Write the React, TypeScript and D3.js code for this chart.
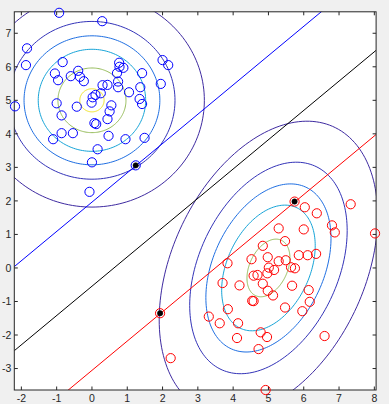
import React from "react";
import * as d3 from "d3";

// ---- data ----
const blueX = [-0.93, 0.29, -1.84, -1.87, -0.83, -1.05, -0.96, -0.6, -0.39, -0.34, -0.23, 0.77, 0.78, 0.89, 0.71, 1.42, 2.0, 2.16, 1.95, 0.74, 0.74, 1.05, 0.44, 0.3, 0.25, 0.1, 0.02, -0.01, 1.37, 1.35, 1.42, 0.55, 0.5, 0.44, 0.07, 0.12, -1.0, -0.43, -0.86, -2.18, -0.86, -0.54, -1.1, 0.47, 0.95, 1.49, 0.16, 0.0, 1.24, -0.07];
const blueY = [7.61, 7.36, 6.55, 6.05, 6.14, 5.8, 5.6, 5.72, 5.88, 5.7, 5.57, 6.12, 6.0, 5.97, 5.81, 5.81, 6.2, 6.05, 5.49, 5.56, 5.39, 5.24, 5.46, 5.45, 5.21, 5.16, 5.09, 4.93, 5.39, 5.04, 4.89, 4.85, 4.67, 4.44, 4.32, 4.29, 4.91, 4.81, 4.55, 4.82, 4.02, 4.02, 3.84, 3.94, 3.84, 3.88, 3.54, 3.15, 3.06, 2.27];

const redX = [5.74, 6.03, 6.37, 7.33, 6.8, 6.88, 8.02, 5.29, 6.0, 5.47, 4.84, 4.52, 4.98, 5.29, 5.49, 5.86, 6.11, 6.35, 3.84, 5.01, 5.16, 4.97, 5.64, 5.75, 4.58, 4.69, 3.7, 4.18, 4.84, 4.98, 5.13, 5.67, 6.14, 6.17, 4.54, 4.58, 3.85, 5.47, 5.96, 3.31, 3.62, 4.14, 4.11, 4.78, 4.96, 6.59, 4.72, 4.92, 1.93, 2.23];
const redY = [1.98, 1.81, 1.63, 1.9, 1.27, 1.06, 1.03, 1.18, 1.15, 0.8, 0.66, 0.26, 0.32, 0.2, 0.23, 0.38, 0.38, 0.42, 0.14, 0.01, -0.06, -0.16, 0.02, -0.01, -0.23, -0.21, -0.45, -0.52, -0.47, -0.68, -0.82, -0.53, -0.66, -1.01, -0.98, -0.99, -1.23, -1.18, -1.29, -1.45, -1.65, -1.65, -2.09, -1.92, -2.06, -2.03, -2.42, -3.64, -1.35, -2.69];

const svX = [1.24, 1.93, 5.74];
const svY = [3.06, -1.35, 1.98];

// Gaussian class models (mean, covariance)
const blueMean = [0, 5];
const blueCov = [1, 0, 1]; // [sxx, sxy, syy]
const redMean = [5, 0];
const redCov = [1, 0.5, 2];

const contourLevels = [0.001, 0.01, 0.025, 0.05, 0.1, 0.15];
const contourColors = ["#3e2aa0", "#3333b8", "#1f6fe2", "#16a4d8", "#96bc5a", "#f0e21a"];

// separating hyperplane and margins: y = slope * x + intercept
const lineSlope = 0.874;
const lineIntercepts = [1.963, -0.545, -3.055];
const lineColors = ["#0000ff", "#000000", "#ff0000"];

const xTicks = [-2, -1, 0, 1, 2, 3, 4, 5, 6, 7, 8];
const yTicks = [-3, -2, -1, 0, 1, 2, 3, 4, 5, 6, 7];

const W = 389, H = 404;
const L = 14.3, R = 376.1, T = 11.8, B = 390;

export default function App() {
  const x = d3.scaleLinear().domain([-2.2, 8.05]).range([L, R]);
  const y = d3.scaleLinear().domain([-3.64, 7.64]).range([B, T]);

  const ellipse = (mean: number[], cov: number[], level: number) => {
    const [a, b, c] = cov;
    const det = a * c - b * b;
    const peak = 1 / (2 * Math.PI * Math.sqrt(det));
    if (peak <= level) return null;
    const d = Math.sqrt(2 * Math.log(peak / level));
    const l11 = Math.sqrt(a);
    const l21 = b / l11;
    const l22 = Math.sqrt(c - l21 * l21);
    const pts = d3.range(0, 361, 2).map((deg) => {
      const t = (deg * Math.PI) / 180;
      const u = Math.cos(t), v = Math.sin(t);
      return [mean[0] + d * l11 * u, mean[1] + d * (l21 * u + l22 * v)] as [number, number];
    });
    return d3.line<[number, number]>().x((p) => x(p[0])).y((p) => y(p[1]))(pts);
  };

  const classes = [
    { mean: blueMean, cov: blueCov },
    { mean: redMean, cov: redCov },
  ];

  const font = "Arial, 'Liberation Sans', Helvetica, sans-serif";
  const axisColor = "#262626";

  return (
    <svg width={W} height={H} style={{ position: "absolute", left: 0, top: 0 }}>
      <rect x={0} y={0} width={W} height={H} fill="#f0f0f0" />
      <rect x={L} y={T} width={R - L} height={B - T} fill="#ffffff" />
      <defs>
        <clipPath id="plotclip">
          <rect x={L} y={T} width={R - L} height={B - T} />
        </clipPath>
      </defs>
      <g clipPath="url(#plotclip)">
        {classes.map((cl, ci) =>
          contourLevels.map((lv, li) => {
            const p = ellipse(cl.mean, cl.cov, lv);
            return p ? (
              <path key={`c${ci}-${li}`} d={p} fill="none" stroke={contourColors[li]} strokeWidth={1} />
            ) : null;
          })
        )}
        {lineIntercepts.map((b0, i) => (
          <line
            key={`l${i}`}
            x1={x(-2.2)}
            y1={y(lineSlope * -2.2 + b0)}
            x2={x(8.05)}
            y2={y(lineSlope * 8.05 + b0)}
            stroke={lineColors[i]}
            strokeWidth={1}
          />
        ))}
      </g>
      {/* axes box */}
      <rect x={L} y={T} width={R - L} height={B - T} fill="none" stroke={axisColor} strokeWidth={1} />
      {xTicks.map((t) => (
        <g key={`xt${t}`}>
          <line x1={x(t)} x2={x(t)} y1={B} y2={B - 3.5} stroke={axisColor} />
          <line x1={x(t)} x2={x(t)} y1={T} y2={T + 3.5} stroke={axisColor} />
          <text x={x(t)} y={B + 12} textAnchor="middle" fontFamily={font} fontSize={10.5} fill={axisColor}>
            {t}
          </text>
        </g>
      ))}
      {yTicks.map((t) => (
        <g key={`yt${t}`}>
          <line x1={L} x2={L + 3.5} y1={y(t)} y2={y(t)} stroke={axisColor} />
          <line x1={R} x2={R - 3.5} y1={y(t)} y2={y(t)} stroke={axisColor} />
          <text x={L - 3} y={y(t) + 3.8} textAnchor="end" fontFamily={font} fontSize={10.5} fill={axisColor}>
            {t}
          </text>
        </g>
      ))}
      {/* markers are not clipped (MATLAB style) */}
      {blueX.map((v, i) => (
        <circle key={`b${i}`} cx={x(v)} cy={y(blueY[i])} r={4.6} fill="none" stroke="#0000ff" strokeWidth={1} />
      ))}
      {redX.map((v, i) => (
        <circle key={`r${i}`} cx={x(v)} cy={y(redY[i])} r={4.6} fill="none" stroke="#ff0000" strokeWidth={1} />
      ))}
      {svX.map((v, i) => (
        <circle key={`s${i}`} cx={x(v)} cy={y(svY[i])} r={2.7} fill="#000000" stroke="#000000" strokeWidth={0.5} />
      ))}
    </svg>
  );
}
